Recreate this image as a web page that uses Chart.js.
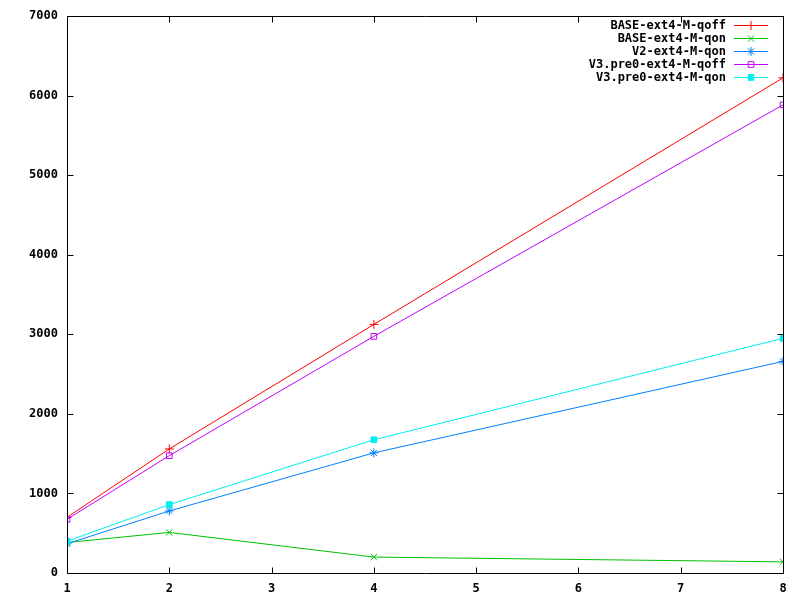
<!DOCTYPE html>
<html>
<head>
<meta charset="utf-8">
<script src="https://cdn.jsdelivr.net/npm/chart.js@4"></script>
<style>
  html, body { margin: 0; padding: 0; background: #fff; }
  #wrap { width: 800px; height: 600px; }
</style>
</head>
<body>
<div id="wrap"><canvas id="grafica" width="800" height="600"></canvas></div>
<script>
// datos
var xValues = [1, 2, 4, 8];
var baseQoff = [700, 1560, 3125, 6225];
var baseQon = [383, 510, 200, 140];
var v2Qon = [368, 780, 1510, 2660];
var v3Qoff = [675, 1475, 2975, 5885];
var v3Qon = [400, 860, 1675, 2950];
var xTicks = [1, 2, 3, 4, 5, 6, 7, 8];
var yTicks = [0, 1000, 2000, 3000, 4000, 5000, 6000, 7000];

var fuente = 'bold 12px "DejaVu Sans Mono", "Liberation Mono", monospace';
var fuenteEjes = { family: '"DejaVu Sans Mono", monospace', size: 12, weight: 'bold' };

function serie(label, values, color, style, fill, order) {
    return {
        label: label,
        data: values.map(function (v, i) { return { x: xValues[i], y: v }; }),
        borderColor: color,
        borderWidth: 1,
        pointStyle: style,
        pointRadius: style === 'rect' ? 4 : 4.5,
        pointBorderColor: color,
        pointBackgroundColor: fill ? color : 'rgba(0,0,0,0)',
        pointBorderWidth: 1,
        fill: false,
        tension: 0,
        order: order
    };
}

var series = [
    serie('BASE-ext4-M-qoff', baseQoff, '#ff0000', 'cross', false, 5),
    serie('BASE-ext4-M-qon', baseQon, '#00c000', 'crossRot', false, 4),
    serie('V2-ext4-M-qon', v2Qon, '#0080ff', 'star', false, 3),
    serie('V3.pre0-ext4-M-qoff', v3Qoff, '#c000ff', 'rect', false, 2),
    serie('V3.pre0-ext4-M-qon', v3Qon, '#00eeee', 'rect', true, 1)
];

// marco, marcas hacia dentro y leyenda al estilo gnuplot
var estiloGnuplot = {
    id: 'estiloGnuplot',
    afterDatasetsDraw: function (chart) {
        var ctx = chart.ctx;
        var a = chart.chartArea;
        var xs = chart.scales.x, ys = chart.scales.y;
        ctx.save();
        ctx.strokeStyle = '#000';
        ctx.lineWidth = 1;
        ctx.beginPath();
        var l = Math.round(a.left) + 0.5, r = Math.round(a.right) + 0.5;
        var t = Math.round(a.top) + 0.5, b = Math.round(a.bottom) + 0.5;
        ctx.rect(l, t, r - l, b - t);
        yTicks.forEach(function (v) {
            var y = Math.round(ys.getPixelForValue(v)) + 0.5;
            ctx.moveTo(l, y); ctx.lineTo(l + 6, y);
            ctx.moveTo(r, y); ctx.lineTo(r - 6, y);
        });
        xTicks.forEach(function (v) {
            var x = Math.round(xs.getPixelForValue(v)) + 0.5;
            ctx.moveTo(x, b); ctx.lineTo(x, b - 6);
            ctx.moveTo(x, t); ctx.lineTo(x, t + 6);
        });
        ctx.stroke();

        // leyenda
        ctx.font = fuente;
        ctx.textAlign = 'right';
        ctx.textBaseline = 'middle';
        chart.data.datasets.forEach(function (ds, i) {
            var y = 25.5 + i * 13;
            ctx.fillStyle = '#000';
            ctx.fillText(ds.label, 726, y);
            ctx.strokeStyle = ds.borderColor;
            ctx.lineWidth = 1;
            ctx.beginPath();
            ctx.moveTo(734, y); ctx.lineTo(768, y);
            ctx.stroke();
            ctx.fillStyle = ds.pointBackgroundColor;
            ctx.strokeStyle = ds.pointBorderColor;
            Chart.helpers.drawPoint(ctx, {
                pointStyle: ds.pointStyle,
                radius: ds.pointRadius,
                borderWidth: 1,
                rotation: 0
            }, 751, y);
        });
        ctx.restore();
    }
};

var ctx = document.getElementById('grafica').getContext('2d');
var grafica = new Chart(ctx, {
    type: 'line',
    data: { datasets: series },
    options: {
        responsive: false,
        animation: false,
        layout: { padding: { top: 13, right: 17, left: 0, bottom: 0 } },
        plugins: {
            legend: { display: false },
            tooltip: { enabled: false }
        },
        scales: {
            x: {
                type: 'linear',
                min: 1,
                max: 8,
                afterBuildTicks: function (s) { s.ticks = xTicks.map(function (v) { return { value: v }; }); },
                afterFit: function (s) { s.height = 27; },
                grid: { display: false, drawTicks: false },
                border: { display: false },
                ticks: { color: '#000', font: fuenteEjes, padding: 9, maxRotation: 0, autoSkip: false,
                    callback: function (v) { return String(v); } }
            },
            y: {
                min: 0,
                max: 7000,
                afterBuildTicks: function (s) { s.ticks = yTicks.map(function (v) { return { value: v }; }); },
                afterFit: function (s) { s.width = 67; },
                grid: { display: false, drawTicks: false },
                border: { display: false },
                ticks: { color: '#000', font: fuenteEjes, padding: 9, autoSkip: false,
                    callback: function (v) { return String(v); } }
            }
        }
    },
    plugins: [estiloGnuplot]
});
</script>
</body>
</html>
